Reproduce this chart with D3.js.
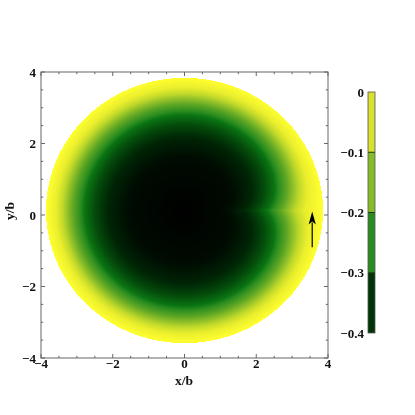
<!DOCTYPE html>
<html><head><meta charset="utf-8">
<script src="https://cdn.jsdelivr.net/npm/d3@7"></script>
<style>
body{margin:0;background:#fff}
#wrap{position:relative;width:415px;height:415px;background:#fff}
canvas,svg{position:absolute;left:0;top:0}
text{font-family:"Liberation Serif","Times New Roman",serif;font-weight:bold;fill:#111}
</style>
</head><body><div id="wrap"><canvas id="c" width="415" height="415"></canvas><svg id="s" width="415" height="415"></svg></div>
<script>
// ---- data ----
const xTicks = [-4, -2, 0, 2, 4];
const yTicks = [-4, -2, 0, 2, 4];
const minorStep = 0.5;
const cbTicks = [0, -0.1, -0.2, -0.3, -0.4];
const cbBandMids = [-0.05, -0.15, -0.25, -0.35];
const cbBandColors = ["#d8e030", "#88bb28", "#2a8c20", "#003408"];
// radial profile of the field (normalised radius -> value)
const profileR = [0, 0.4, 0.55, 0.65, 0.72, 0.8, 0.88, 1.0];
const profileV = [-0.4, -0.388, -0.36, -0.32, -0.28, -0.2, -0.1, 0];
// disk (region) in data units
const diskCenter = [0, 0.126];
const diskRadii = [3.86, 3.71];
// crease along +x axis
const creaseAmp = 0.13, creaseWidth = 0.3;
// arrow (data units)
const arrowX = 3.56, arrowY0 = -0.9, arrowY1 = 0.1;
// colour function stops (value -> colour)
const colorVals = [-0.4, -0.35, -0.28, -0.25, -0.15, -0.06, 0];
const colorHex = ["#000000", "#002e06", "#0a7412", "#2a8c20", "#8cbe28", "#eaee2c", "#ffff30"];

// ---- scales ----
const x = d3.scaleLinear([-4, 4], [41, 328]);
const y = d3.scaleLinear([-4, 4], [358, 72]);
const color = d3.scaleLinear(colorVals, colorHex).clamp(true);
const profile = d3.scaleLinear(profileR, profileV).clamp(true);
const cb = d3.scaleLinear([-0.4, 0], [333, 92]);

// ---- density raster ----
const ctx = document.getElementById("c").getContext("2d");
const img = ctx.createImageData(415, 415);
for (let py = 72; py <= 358; py++) {
  for (let px = 41; px <= 328; px++) {
    const X = x.invert(px + 0.5), Y = y.invert(py + 0.5);
    const dx = (X - diskCenter[0]) / diskRadii[0];
    const dy = (Y - diskCenter[1]) / diskRadii[1];
    const r = Math.hypot(dx, dy);
    if (r > 1) continue;
    const th = Math.atan2(dy, dx);
    const reff = r + creaseAmp * Math.exp(-Math.abs(th) / creaseWidth) * 4 * r * (1 - r);
    const c = d3.rgb(color(profile(reff)));
    const i = (py * 415 + px) * 4;
    img.data[i] = c.r; img.data[i+1] = c.g; img.data[i+2] = c.b; img.data[i+3] = 255;
  }
}
ctx.putImageData(img, 0, 0);

// ---- svg ----
const svg = d3.select("#s");
const axisCol = "#666";
const minors = d3.range(-4, 4.001, minorStep);

svg.append("rect").attr("x", x(-4)).attr("y", y(4))
  .attr("width", x(4) - x(-4)).attr("height", y(-4) - y(4))
  .attr("fill", "none").attr("stroke", axisCol).attr("stroke-width", 1);

const isMajor = v => xTicks.some(t => Math.abs(t - v) < 1e-9);
const tk = svg.append("g").attr("stroke", axisCol).attr("stroke-width", 1);
minors.forEach(v => {
  const L = isMajor(v) ? 4 : 2.2;
  tk.append("line").attr("x1", x(v)).attr("x2", x(v)).attr("y1", y(-4)).attr("y2", y(-4) - L);
  tk.append("line").attr("x1", x(v)).attr("x2", x(v)).attr("y1", y(4)).attr("y2", y(4) + L);
  tk.append("line").attr("y1", y(v)).attr("y2", y(v)).attr("x1", x(-4)).attr("x2", x(-4) + L);
  tk.append("line").attr("y1", y(v)).attr("y2", y(v)).attr("x1", x(4)).attr("x2", x(4) - L);
});

const fmt = v => (v < 0 ? "\u2212" : "") + Math.abs(v);
svg.append("g").selectAll("text").data(xTicks).join("text")
  .attr("x", d => x(d)).attr("y", 368).attr("text-anchor", "middle")
  .attr("font-size", 13).text(fmt);
svg.append("g").selectAll("text").data(yTicks).join("text")
  .attr("x", 36).attr("y", d => y(d) + 4.5).attr("text-anchor", "end")
  .attr("font-size", 13).text(fmt);

svg.append("text").attr("x", 184).attr("y", 385).attr("text-anchor", "middle")
  .attr("font-size", 13.5).text("x/b");
svg.append("text").attr("transform", "translate(13.5,211) rotate(-90)")
  .attr("text-anchor", "middle").attr("font-size", 13.5).text("y/b");

// arrow
const ax = x(arrowX), tipY = y(arrowY1), tailY = y(arrowY0);
const headL = 13, headW = 3.6;
svg.append("line").attr("x1", ax).attr("x2", ax).attr("y1", tailY).attr("y2", tipY + headL - 2)
  .attr("stroke", "#000").attr("stroke-width", 1.2);
svg.append("path")
  .attr("d", `M${ax},${tipY} L${ax + headW},${tipY + headL} L${ax},${tipY + headL - 3} L${ax - headW},${tipY + headL} Z`)
  .attr("fill", "#000");

// colour bar
const cbX = 368, cbW = 7;
const bandH = Math.abs(cb(-0.1) - cb(0));
svg.append("g").selectAll("rect").data(cbBandMids).join("rect")
  .attr("x", cbX).attr("y", d => cb(d + 0.05)).attr("width", cbW).attr("height", bandH)
  .attr("fill", (d, i) => cbBandColors[i]);
svg.append("g").selectAll("line").data(cbTicks.slice(1, -1)).join("line")
  .attr("x1", cbX).attr("x2", cbX + cbW).attr("y1", d => cb(d)).attr("y2", d => cb(d))
  .attr("stroke", "#1a3a00").attr("stroke-width", 1);
svg.append("rect").attr("x", cbX).attr("y", cb(0)).attr("width", cbW).attr("height", cb(-0.4) - cb(0))
  .attr("fill", "none").attr("stroke", "#555").attr("stroke-width", 0.8);
svg.append("g").selectAll("text").data(cbTicks).join("text")
  .attr("x", 364).attr("y", d => cb(d) + 4.5).attr("text-anchor", "end")
  .attr("font-size", 13).text(d => d === 0 ? "0" : "\u2212" + Math.abs(d).toFixed(1));
</script>
</body></html>
